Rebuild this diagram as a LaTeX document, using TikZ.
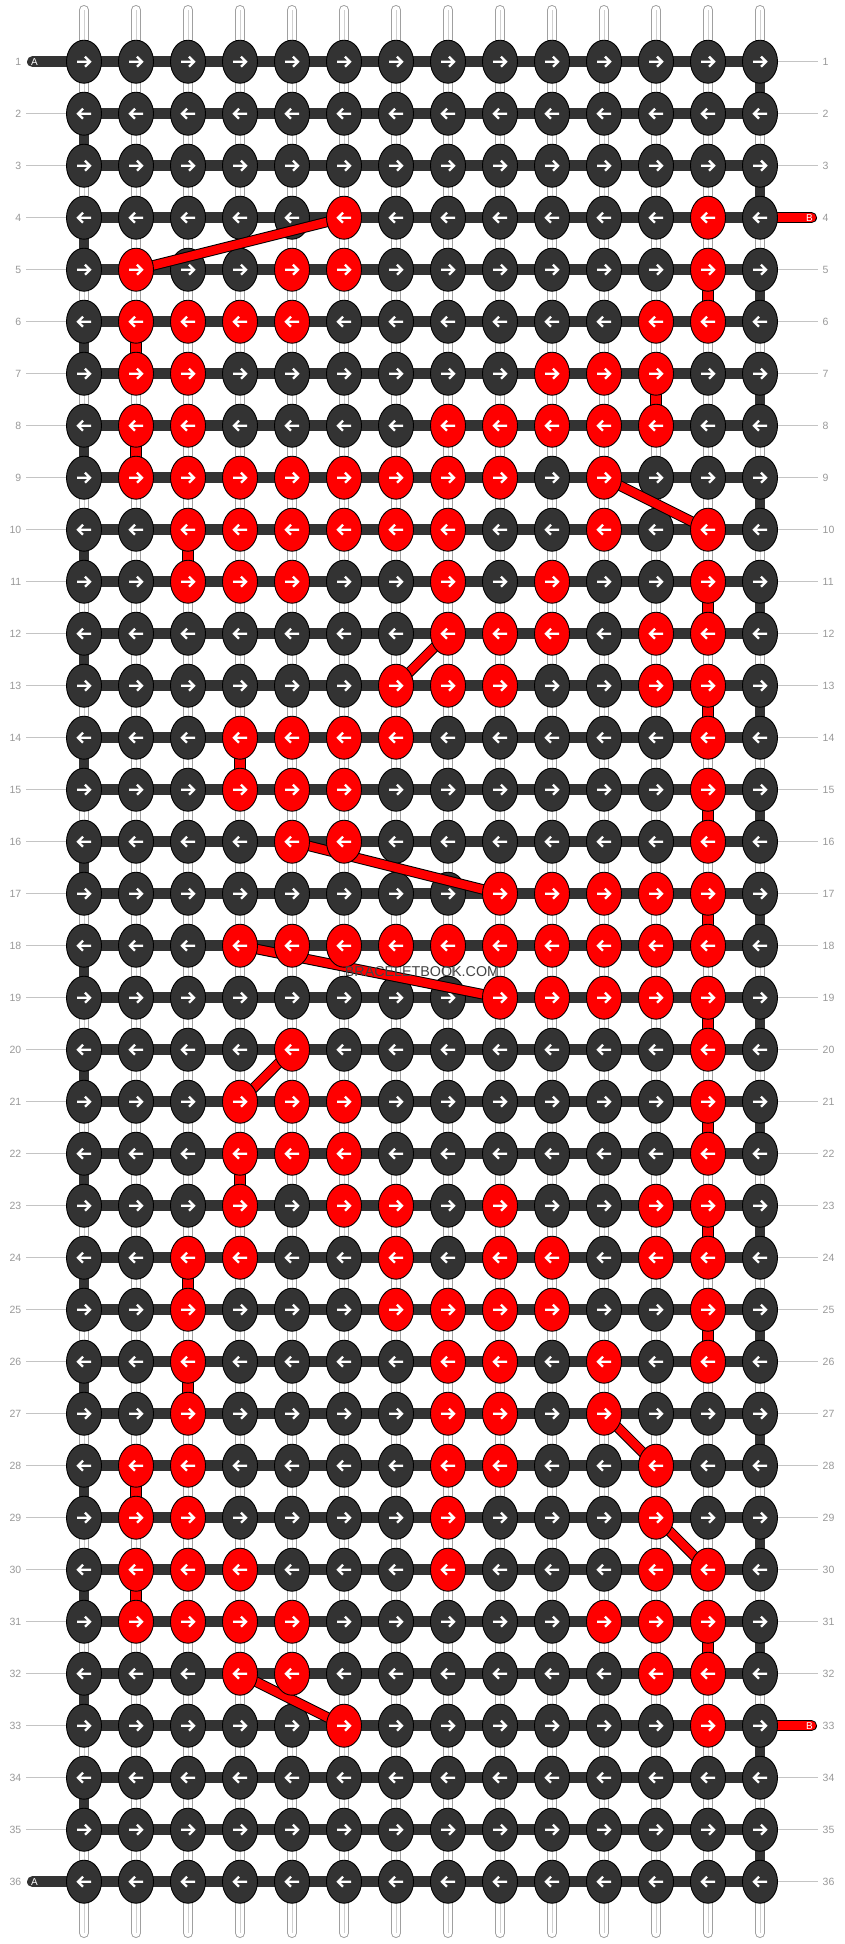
\documentclass[tikz,border=0pt]{standalone}
\usepackage{fontspec}
\setmainfont{Liberation Sans}
\usetikzlibrary{shapes.geometric}
\definecolor{knotdark}{HTML}{333333}
\definecolor{knotred}{HTML}{FF0000}
\definecolor{numgray}{HTML}{999999}
\definecolor{linegray}{HTML}{C4C4C4}
\definecolor{strborder}{HTML}{A0A0A0}
\definecolor{strinner}{HTML}{D0D0D0}
\definecolor{wmgray}{HTML}{444444}
\pgfdeclarelayer{bg}\pgfdeclarelayer{mid}\pgfdeclarelayer{top}
\pgfsetlayers{bg,main,mid,top}
\newcommand\setred[2]{\foreach \cc in {#2}{\expandafter\xdef\csname redk-#1-\cc\endcsname{1}}}
\setred{4}{6,13}
\setred{5}{2,5,6,13}
\setred{6}{2,3,4,5,12,13}
\setred{7}{2,3,10,11,12}
\setred{8}{2,3,8,9,10,11,12}
\setred{9}{2,3,4,5,6,7,8,9,11}
\setred{10}{3,4,5,6,7,8,11,13}
\setred{11}{3,4,5,8,10,13}
\setred{12}{8,9,10,12,13}
\setred{13}{7,8,9,12,13}
\setred{14}{4,5,6,7,13}
\setred{15}{4,5,6,13}
\setred{16}{5,6,13}
\setred{17}{9,10,11,12,13}
\setred{18}{4,5,6,7,8,9,10,11,12,13}
\setred{19}{9,10,11,12,13}
\setred{20}{5,13}
\setred{21}{4,5,6,13}
\setred{22}{4,5,6,13}
\setred{23}{4,6,7,9,12,13}
\setred{24}{3,4,7,9,10,12,13}
\setred{25}{3,7,8,9,10,13}
\setred{26}{3,8,9,11,13}
\setred{27}{3,8,9,11}
\setred{28}{2,3,8,9,12}
\setred{29}{2,3,8,12}
\setred{30}{2,3,4,8,12,13}
\setred{31}{2,3,4,5,11,12,13}
\setred{32}{4,5,12,13}
\setred{33}{6,13}
\begin{document}
\begin{tikzpicture}[x=1pt,y=-1pt,
  knot/.style={ellipse, minimum width=35pt, minimum height=43pt, inner sep=0pt, outer sep=0pt, draw=black, line width=0.9pt, fill=knotdark},
  redknot/.style={knot, fill=knotred},
  arrowpen/.style={white, line width=2.4pt, line join=miter, line cap=butt},
  arR/.style={path picture={\draw[arrowpen] ([xshift=-7pt]path picture bounding box.center) -- ([xshift=6pt]path picture bounding box.center) ([xshift=1pt,yshift=-5pt]path picture bounding box.center) -- ([xshift=6pt]path picture bounding box.center) -- ([xshift=1pt,yshift=5pt]path picture bounding box.center);}},
  arL/.style={path picture={\draw[arrowpen] ([xshift=7pt]path picture bounding box.center) -- ([xshift=-6pt]path picture bounding box.center) ([xshift=-1pt,yshift=-5pt]path picture bounding box.center) -- ([xshift=-6pt]path picture bounding box.center) -- ([xshift=-1pt,yshift=5pt]path picture bounding box.center);}},
  vstrout/.style={strborder, line width=10pt, line cap=round},
  vstrin/.style={white, line width=8pt, line cap=round},
  vstrmid/.style={strinner, line width=0.7pt},
  hstr/.style={knotdark, line width=11pt},
  wrapstr/.style={knotdark, line width=10pt},
  redout/.style={black, line width=11.5pt},
  redin/.style={knotred, line width=9.5pt},
  diagout/.style={black, line width=10.5pt},
  diagin/.style={knotred, line width=8.5pt},
  numtext/.style={text=numgray, font=\fontsize{10.5}{12}\selectfont, inner xsep=4.5pt, inner ysep=0pt},
  gridline/.style={linegray, line width=1pt},
  endtext/.style={text=white, font=\fontsize{10}{12}\selectfont, inner sep=0pt},
  wmtext/.style={text=wmgray, font=\fontsize{14.3}{16}\selectfont, inner sep=1pt}
]
\begin{pgfonlayer}{bg}
\fill[white] (0,0) rectangle (844,1944);
\end{pgfonlayer}
\useasboundingbox (0,0) rectangle (844,1944);

% knots
\foreach \r in {1,...,36}{
  \foreach \c in {1,...,14}{
    \pgfmathsetmacro\kx{84+52*(\c-1)}
    \pgfmathsetmacro\ky{61.7+52*(\r-1)}
    \ifodd\r\relax \tikzset{curdir/.style={arR}}\else\tikzset{curdir/.style={arL}}\fi
    \ifcsname redk-\r-\c\endcsname
      \begin{pgfonlayer}{top}
      \node[redknot,curdir] (k-\r-\c) at (\kx,\ky) {};
      \end{pgfonlayer}
    \else
      \node[knot,curdir] (k-\r-\c) at (\kx,\ky) {};
    \fi
  }
}

% row numbers
\foreach \r in {1,...,36}{
  \pgfmathsetmacro\ky{61.7+52*(\r-1)}
  \node[numtext,anchor=east] (nl-\r) at (26,\ky) {\r};
  \node[numtext,anchor=west] (nr-\r) at (818,\ky) {\r};
}

\begin{pgfonlayer}{bg}
% vertical strings
\foreach \c in {1,...,14}{
  \pgfmathsetmacro\kx{84+52*(\c-1)}
  \coordinate (vt-\c) at (\kx,10);
  \coordinate (vb-\c) at (\kx,1933);
  \draw[vstrout] (vt-\c) -- (vb-\c);
  \draw[vstrin] (vt-\c) -- (vb-\c);
  \draw[vstrmid] (vt-\c) -- (vb-\c);
}
% grid lines to numbers
\foreach \r in {2,...,35}{
  \draw[gridline] (nl-\r.east) -- (k-\r-1.center);
}
\foreach \r in {1,...,36}{
  \ifnum\r=4\relax\else\ifnum\r=33\relax\else
  \draw[gridline] (k-\r-14.center) -- (nr-\r.west);
  \fi\fi
}
% wraps of the background string
\foreach \r in {2,4,...,34}{
  \pgfmathtruncatemacro\rn{\r+1}
  \draw[wrapstr] (k-\r-1.center) -- (k-\rn-1.center);
}
\foreach \r in {1,3,...,35}{
  \pgfmathtruncatemacro\rn{\r+1}
  \draw[wrapstr] (k-\r-14.center) -- (k-\rn-14.center);
}
% horizontal strings
\foreach \r in {2,...,35}{
  \draw[hstr] (k-\r-1.center) -- (k-\r-14.center);
}
\coordinate (A-1) at (32.5,61.7);
\coordinate (A-36) at (32.5,1881.7);
\draw[hstr,line cap=round] (A-1) -- (k-1-14.center);
\draw[hstr,line cap=round] (A-36) -- (k-36-14.center);
\node[endtext] (At-1) at (34.5,61.7) {A};
\node[endtext] (At-36) at (34.5,1881.7) {A};
% B ends
\coordinate (B-4) at (811.5,217.7);
\coordinate (B-33) at (811.5,1725.7);
\draw[redout,line width=11pt,line cap=round] (k-4-14.center) -- (B-4);
\draw[redin,line width=9pt,line cap=round] (k-4-14.center) -- (B-4);
\draw[redout,line width=11pt,line cap=round] (k-33-14.center) -- (B-33);
\draw[redin,line width=9pt,line cap=round] (k-33-14.center) -- (B-33);
\node[endtext] (Bt-4) at (809.5,217.7) {B};
\node[endtext] (Bt-33) at (809.5,1725.7) {B};
% red string going down in the same column
\foreach \a/\b/\c in {5/6/13, 6/7/2, 7/8/12, 8/9/2, 10/11/3, 11/12/13, 13/14/13, 14/15/4, 15/16/13, 17/18/13, 19/20/13, 21/22/13, 22/23/4, 23/24/13, 24/25/3, 25/26/13, 26/27/3, 28/29/2, 30/31/2, 31/32/13}{
  \draw[redout] (k-\a-\c.center) -- (k-\b-\c.center);
  \draw[redin] (k-\a-\c.center) -- (k-\b-\c.center);
}
\end{pgfonlayer}

% red string moving diagonally
\begin{pgfonlayer}{mid}
\foreach \a/\b in {4-6/5-2, 9-11/10-13, 12-8/13-7, 16-5/17-9, 18-4/19-9, 20-5/21-4, 27-11/28-12, 29-12/30-13, 32-4/33-6}{
  \draw[diagout] (k-\a.center) -- (k-\b.center);
  \draw[diagin] (k-\a.center) -- (k-\b.center);
}
\end{pgfonlayer}

\begin{pgfonlayer}{top}
\node[wmtext] (wm) at (422,971.7) {BRACELETBOOK.COM};
\end{pgfonlayer}
\end{tikzpicture}
\end{document}
